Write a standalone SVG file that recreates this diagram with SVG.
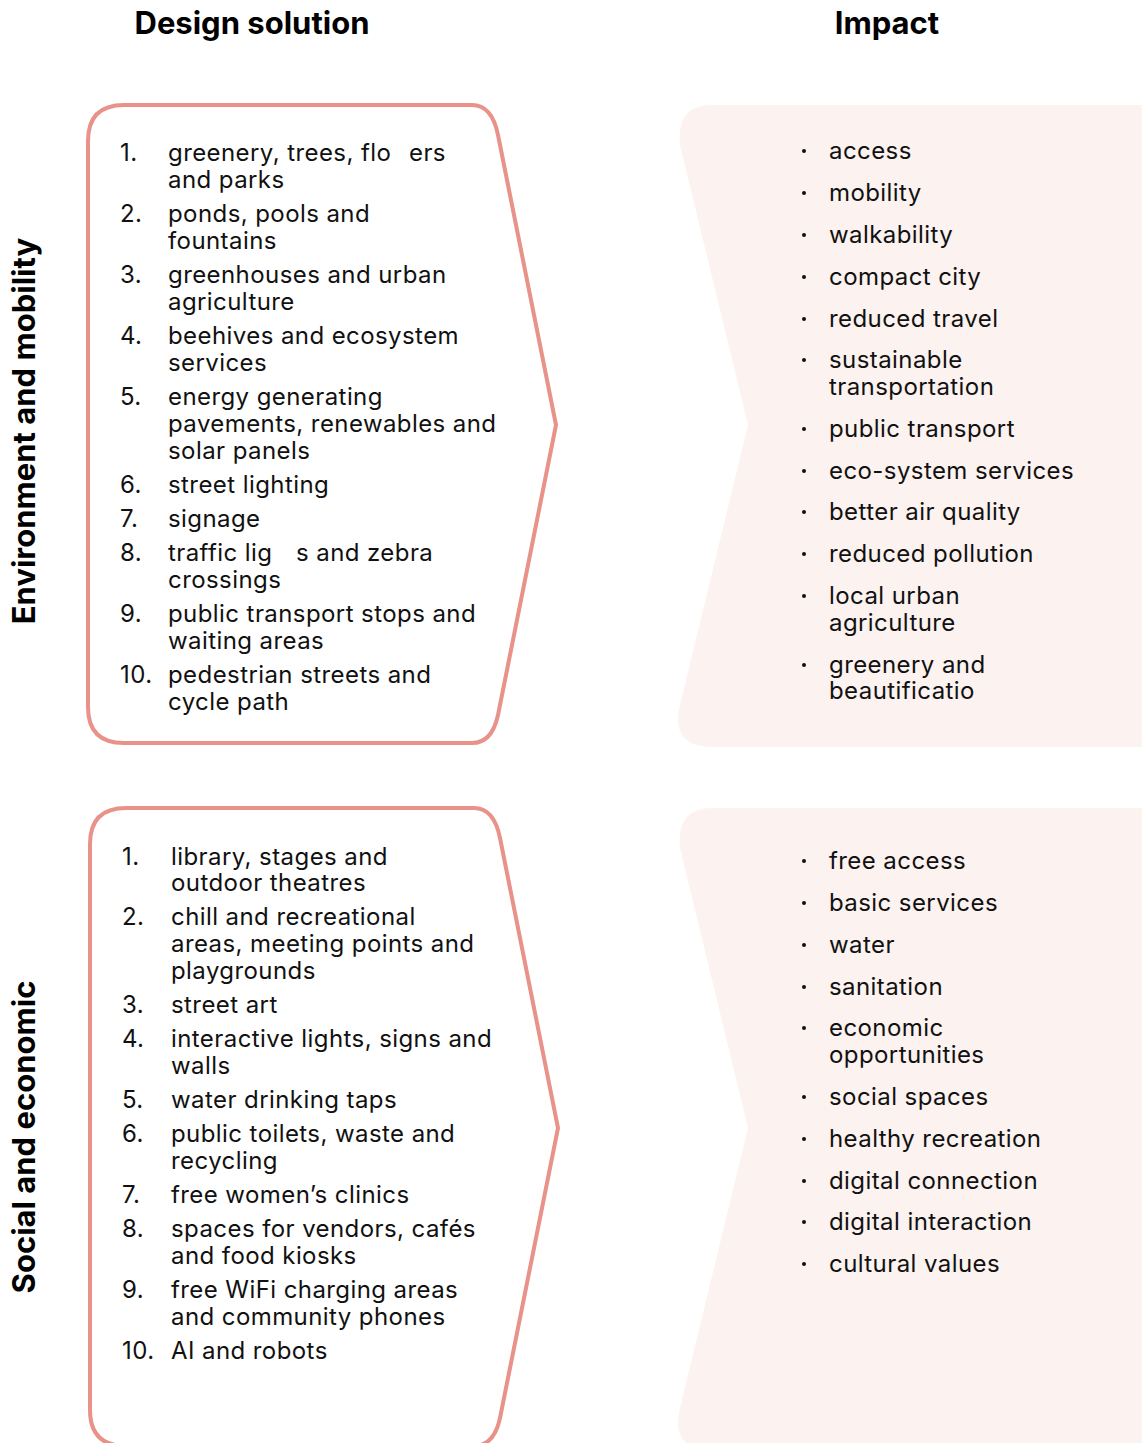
<svg xmlns="http://www.w3.org/2000/svg" width="1142" height="1443" viewBox="0 0 1142 1443">
<style>
.h{font-family:Inter,"Liberation Sans",sans-serif;font-weight:700;font-size:31px;fill:#000}
.v{font-family:Inter,"Liberation Sans",sans-serif;font-weight:700;font-size:31px;fill:#000}
.t{font-family:Inter,"Liberation Sans",sans-serif;font-size:24px;letter-spacing:0.42px;fill:#111}
.box{fill:#fff;stroke:#E8928A;stroke-width:4}
.imp{fill:#FCF2F0}
.b{fill:#111}
</style>
<rect width="1142" height="1443" fill="#fff"/>
<text class="h" x="252" y="34" text-anchor="middle">Design solution</text>
<text class="h" x="887" y="34" text-anchor="middle">Impact</text>
<text class="v" transform="translate(35,431) rotate(-90)" text-anchor="middle">Environment and mobility</text>
<text class="v" transform="translate(35,1137) rotate(-90)" text-anchor="middle">Social and economic</text>

<g id="design1">
<path class="box" d="M124,105 H472 Q492,105 498,135 L556,425 L498,715 Q492,743 472,743 H124 Q88,743 88,707 V141 Q88,105 124,105 Z"/>
<g class="t">
<text x="120" y="161">1.</text><text x="168" y="161">greenery, trees, flo</text><text x="409" y="161">ers</text>
<text x="168" y="188">and parks</text>
<text x="120" y="222">2.</text><text x="168" y="222">ponds, pools and</text>
<text x="168" y="249">fountains</text>
<text x="120" y="283">3.</text><text x="168" y="283">greenhouses and urban</text>
<text x="168" y="310">agriculture</text>
<text x="120" y="344">4.</text><text x="168" y="344">beehives and ecosystem</text>
<text x="168" y="371">services</text>
<text x="120" y="405">5.</text><text x="168" y="405">energy generating</text>
<text x="168" y="432">pavements, renewables and</text>
<text x="168" y="459">solar panels</text>
<text x="120" y="493">6.</text><text x="168" y="493">street lighting</text>
<text x="120" y="527">7.</text><text x="168" y="527">signage</text>
<text x="120" y="561">8.</text><text x="168" y="561">traffic lig</text><text x="296" y="561">s and zebra</text>
<text x="168" y="588">crossings</text>
<text x="120" y="622">9.</text><text x="168" y="622">public transport stops and</text>
<text x="168" y="649">waiting areas</text>
<text x="120" y="683">10.</text><text x="168" y="683">pedestrian streets and</text>
<text x="168" y="710">cycle path</text>
</g>
</g>

<g id="impact1">
<path class="imp" d="M712,105 H1142 V747 H712 Q670,747 680,705 L748,425 L680,145 Q676,105 712,105 Z"/>
<g class="t">
<circle class="b" cx="804" cy="151" r="2"/><text x="829" y="159">access</text>
<circle class="b" cx="804" cy="193" r="2"/><text x="829" y="201">mobility</text>
<circle class="b" cx="804" cy="235" r="2"/><text x="829" y="243">walkability</text>
<circle class="b" cx="804" cy="277" r="2"/><text x="829" y="285">compact city</text>
<circle class="b" cx="804" cy="319" r="2"/><text x="829" y="327">reduced travel</text>
<circle class="b" cx="804" cy="360" r="2"/><text x="829" y="368">sustainable</text>
<text x="829" y="395">transportation</text>
<circle class="b" cx="804" cy="429" r="2"/><text x="829" y="437">public transport</text>
<circle class="b" cx="804" cy="471" r="2"/><text x="829" y="479">eco-system services</text>
<circle class="b" cx="804" cy="512" r="2"/><text x="829" y="520">better air quality</text>
<circle class="b" cx="804" cy="554" r="2"/><text x="829" y="562">reduced pollution</text>
<circle class="b" cx="804" cy="596" r="2"/><text x="829" y="604">local urban</text>
<text x="829" y="631">agriculture</text>
<circle class="b" cx="804" cy="665" r="2"/><text x="829" y="673">greenery and</text>
<text x="829" y="699">beautificatio</text>
</g>
</g>

<g id="design2">
<path class="box" d="M126,808 H474 Q494,808 500,838 L558,1128 L500,1418 Q494,1446 474,1446 H126 Q90,1446 90,1410 V844 Q90,808 126,808 Z"/>
<g class="t">
<text x="122" y="865">1.</text><text x="171" y="865">library, stages and</text>
<text x="171" y="891">outdoor theatres</text>
<text x="122" y="925">2.</text><text x="171" y="925">chill and recreational</text>
<text x="171" y="952">areas, meeting points and</text>
<text x="171" y="979">playgrounds</text>
<text x="122" y="1013">3.</text><text x="171" y="1013">street art</text>
<text x="122" y="1047">4.</text><text x="171" y="1047">interactive lights, signs and</text>
<text x="171" y="1074">walls</text>
<text x="122" y="1108">5.</text><text x="171" y="1108">water drinking taps</text>
<text x="122" y="1142">6.</text><text x="171" y="1142">public toilets, waste and</text>
<text x="171" y="1169">recycling</text>
<text x="122" y="1203">7.</text><text x="171" y="1203">free women’s clinics</text>
<text x="122" y="1237">8.</text><text x="171" y="1237">spaces for vendors, cafés</text>
<text x="171" y="1264">and food kiosks</text>
<text x="122" y="1298">9.</text><text x="171" y="1298">free WiFi charging areas</text>
<text x="171" y="1325">and community phones</text>
<text x="122" y="1359">10.</text><text x="171" y="1359">AI and robots</text>
</g>
</g>

<g id="impact2">
<path class="imp" d="M712,808 H1142 V1450 H712 Q670,1450 680,1408 L748,1128 L680,848 Q676,808 712,808 Z"/>
<g class="t">
<circle class="b" cx="804" cy="861" r="2"/><text x="829" y="869">free access</text>
<circle class="b" cx="804" cy="903" r="2"/><text x="829" y="911">basic services</text>
<circle class="b" cx="804" cy="945" r="2"/><text x="829" y="953">water</text>
<circle class="b" cx="804" cy="987" r="2"/><text x="829" y="995">sanitation</text>
<circle class="b" cx="804" cy="1028" r="2"/><text x="829" y="1036">economic</text>
<text x="829" y="1063">opportunities</text>
<circle class="b" cx="804" cy="1097" r="2"/><text x="829" y="1105">social spaces</text>
<circle class="b" cx="804" cy="1139" r="2"/><text x="829" y="1147">healthy recreation</text>
<circle class="b" cx="804" cy="1181" r="2"/><text x="829" y="1189">digital connection</text>
<circle class="b" cx="804" cy="1222" r="2"/><text x="829" y="1230">digital interaction</text>
<circle class="b" cx="804" cy="1264" r="2"/><text x="829" y="1272">cultural values</text>
</g>
</g>
<g id="connectors"/>
</svg>
